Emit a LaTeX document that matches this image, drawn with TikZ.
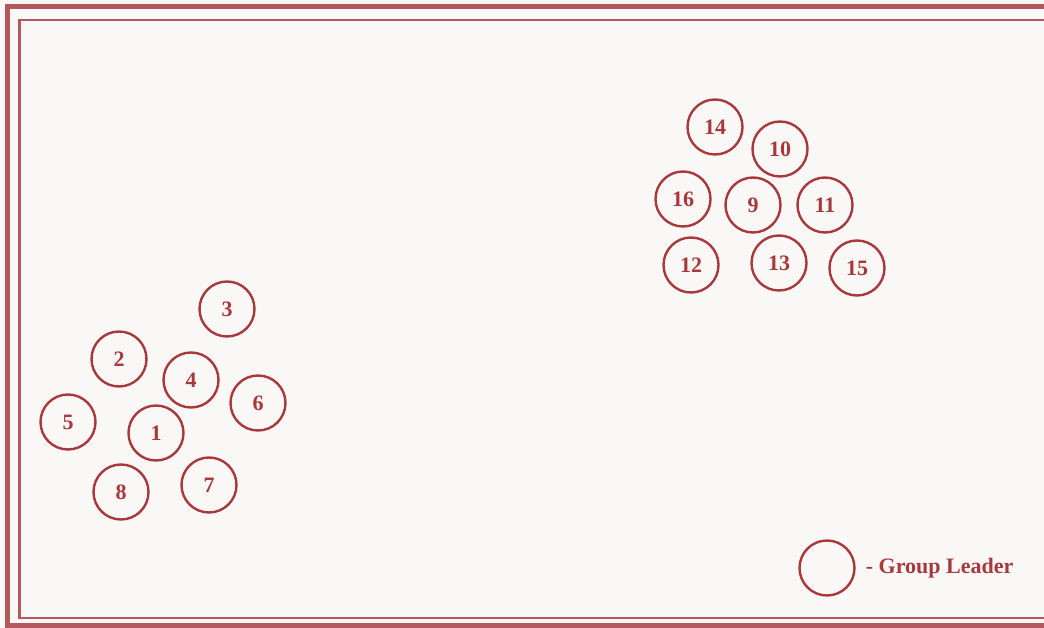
\documentclass[tikz,border=0pt]{standalone}
\usepackage{fontspec}
\setmainfont{Liberation Serif}
\usetikzlibrary{positioning}

\definecolor{paper}{HTML}{FAF8F7}
\definecolor{framered}{HTML}{B3585C}
\definecolor{leaderred}{HTML}{A8383C}

\tikzset{
	member/.style={circle, draw=leaderred, line width=2.4pt, minimum size=55pt, inner sep=0pt,
		text=leaderred, font=\fontsize{22}{26}\selectfont\bfseries},
	legendtext/.style={text=leaderred, inner sep=0pt, font=\fontsize{22}{26}\selectfont\bfseries}
}

\begin{document}
\begin{tikzpicture}[x=1pt, y=-1pt]

		% --- Page and frame ---
		\useasboundingbox (0,0) rectangle (1044,628);
		\clip (0,0) rectangle (1044,628);
		\fill[paper] (0,0) rectangle (1044,628);
		\draw[framered, line width=5.5pt] (1060,6.5) -- (7.5,6.5) -- (7.5,625.5) -- (1060,625.5);
		\draw[framered, line width=2.5pt] (1060,20) -- (19.5,20) -- (19.5,618) -- (1060,618);

		% --- First group ---
		\foreach \n/\x/\y in {1/156/433, 2/119/359, 3/227/309, 4/191/380,
			5/68/422, 6/258/403, 7/209/485, 8/121/492} {
			\node[member] (m\n) at (\x,\y) {\n};
		}

		% --- Second group ---
		\foreach \n/\x/\y in {9/753/205, 10/780/149, 11/825/205, 12/691/265,
			13/779/263, 14/715/127, 15/857/268, 16/683/199} {
			\node[member] (m\n) at (\x,\y) {\n};
		}

		% --- Legend ---
		\node[member] (leader) at (827,568) {};
		\node[legendtext, right=10pt of leader] (leadertxt) {- Group Leader};

	\end{tikzpicture}
\end{document}
